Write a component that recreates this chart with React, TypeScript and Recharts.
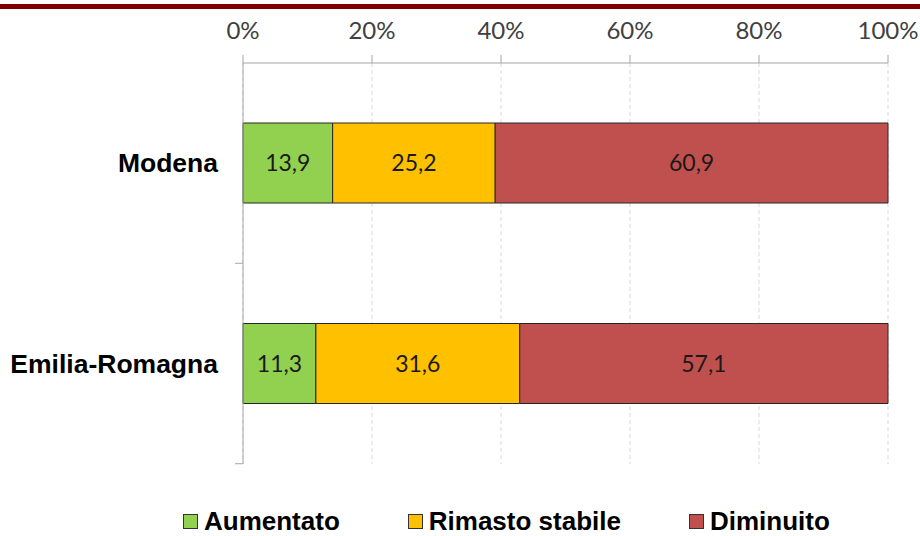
import { BarChart, Bar, XAxis, YAxis, CartesianGrid, Legend, LabelList } from 'recharts'

const categories = ['Modena', 'Emilia-Romagna']
const aumentato = [13.9, 11.3]
const rimastoStabile = [25.2, 31.6]
const diminuito = [60.9, 57.1]
const percentTicks = [0, 20, 40, 60, 80, 100]

const seriesInfo = [
  { key: 'aumentato', label: 'Aumentato', color: '#92D050' },
  { key: 'stabile', label: 'Rimasto stabile', color: '#FFC000' },
  { key: 'diminuito', label: 'Diminuito', color: '#C0504D' },
]

const data = categories.map((name, i) => ({
  name,
  aumentato: aumentato[i],
  stabile: rimastoStabile[i],
  diminuito: diminuito[i],
}))

const numFont = 'Lato, "Open Sans", sans-serif'
const boldFont = '"Liberation Sans", Arial, sans-serif'
const fmt = (v: any) => Number(v).toFixed(1).replace('.', ',')

function CategoryTick(props: any) {
  const { y, payload } = props
  return (
    <g>
      <text
        x={218}
        y={y}
        textAnchor="end"
        dominantBaseline="central"
        fontFamily={boldFont}
        fontWeight="bold"
        fontSize={26.5}
        fill="#000"
      >
        {payload.value}
      </text>
      {/* excel puts the ticks between categories */}
      <line x1={235} x2={243} y1={y + 100} y2={y + 100} stroke="#a6a6a6" />
    </g>
  )
}

function LegendBox() {
  return (
    <div style={{ display: 'flex', gap: 68, alignItems: 'center', height: 30 }}>
      {seriesInfo.map((s) => (
        <span
          key={s.key}
          style={{
            display: 'flex',
            alignItems: 'center',
            gap: 6,
            fontFamily: boldFont,
            fontWeight: 'bold',
            fontSize: 26,
            lineHeight: '30px',
            color: '#000',
          }}
        >
          <span
            style={{
              display: 'inline-block',
              width: 13,
              height: 13,
              background: s.color,
              border: '1px solid #333',
            }}
          />
          {s.label}
        </span>
      ))}
    </div>
  )
}

export default function App() {
  return (
    <div style={{ position: 'absolute', left: 0, top: 0, width: 920, height: 536, background: '#fff' }}>
      <div style={{ position: 'absolute', left: 0, top: 4, width: 920, height: 5, background: '#800000' }} />
      <BarChart
        width={920}
        height={536}
        data={data}
        layout="vertical"
        margin={{ top: 33, right: 32, bottom: 42, left: 0 }}
      >
        <CartesianGrid horizontal={false} stroke="#d9d9d9" strokeDasharray="4 3" />
        <XAxis
          type="number"
          orientation="top"
          domain={[0, 100]}
          ticks={percentTicks}
          tickFormatter={(v) => `${v}%`}
          height={30}
          tickSize={8}
          tickMargin={16}
          axisLine={{ stroke: '#a6a6a6' }}
          tickLine={{ stroke: '#a6a6a6' }}
          tick={{ fill: '#404040', fontSize: 24, fontFamily: numFont }}
        />
        <YAxis
          type="category"
          dataKey="name"
          width={243}
          axisLine={{ stroke: '#a6a6a6' }}
          tickLine={false}
          tick={<CategoryTick />}
        />
        <Legend
          verticalAlign="bottom"
          content={<LegendBox />}
          wrapperStyle={{ left: 183, top: 506, width: 'auto', height: 30 }}
        />
        {seriesInfo.map((s) => (
          <Bar
            key={s.key}
            dataKey={s.key}
            name={s.label}
            stackId="a"
            fill={s.color}
            stroke="#262626"
            strokeWidth={1}
            barSize={80}
            isAnimationActive={false}
          >
            <LabelList
              dataKey={s.key}
              position="center"
              formatter={fmt}
              fill="#1a1a1a"
              fontSize={23}
              fontFamily={numFont}
            />
          </Bar>
        ))}
      </BarChart>
    </div>
  )
}
